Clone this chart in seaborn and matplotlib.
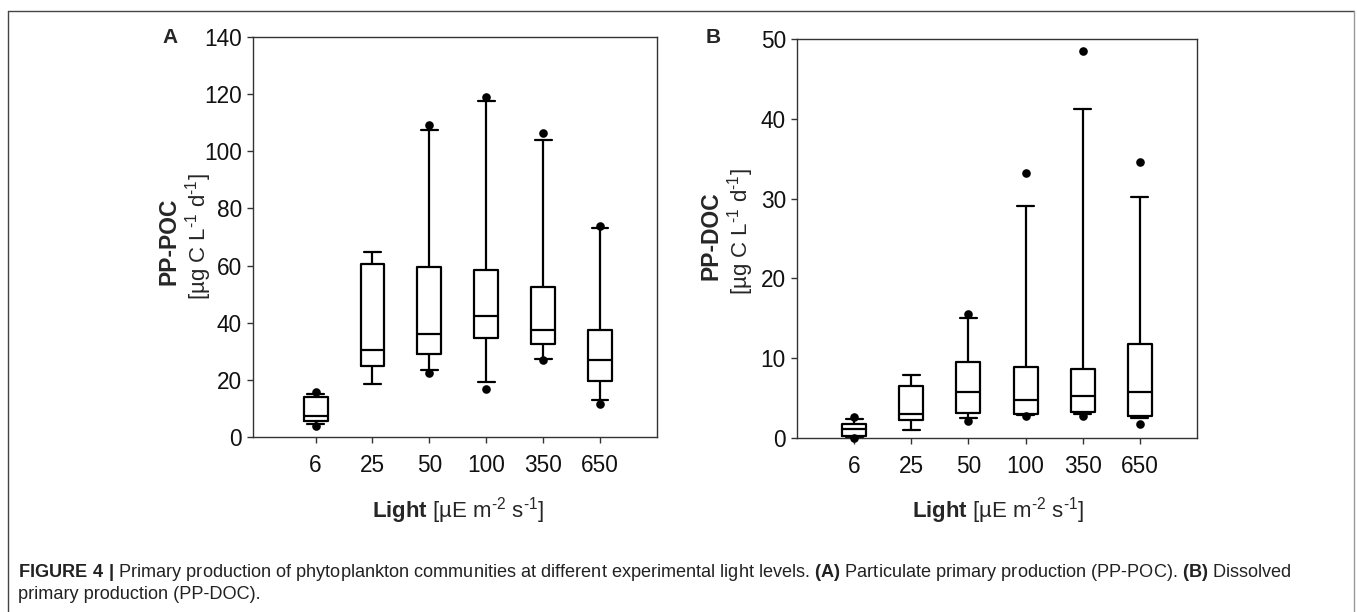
"""
Figure 4: primary production (PP-POC, PP-DOC) at different light levels.
"""

import matplotlib.pyplot as plt
import seaborn as sns
import pandas as pd
from matplotlib.lines import Line2D

# light levels (categories on x)
light_levels = ["6", "25", "50", "100", "350", "650"]

# PP-POC box statistics (whisker low, q1, median, q3, whisker high)
poc_whislo = [4.5, 18.6, 23.4, 19.2, 27.3, 13.0]
poc_q1 = [5.5, 24.7, 29.0, 34.7, 32.5, 19.7]
poc_median = [7.3, 30.3, 36.2, 42.5, 37.3, 26.9]
poc_q3 = [14.1, 60.4, 59.5, 58.6, 52.4, 37.4]
poc_whishi = [15.1, 64.8, 107.4, 117.7, 103.9, 73.0]
# PP-POC outlier points
poc_out_light = ["6", "6", "50", "50", "100", "100", "350", "350", "650", "650"]
poc_out_value = [15.6, 4.0, 109.1, 22.4, 118.9, 16.9, 106.5, 26.8, 74.0, 11.6]

# PP-DOC box statistics
doc_whislo = [0.1, 1.04, 2.5, 2.9, 3.0, 2.5]
doc_q1 = [0.25, 2.26, 3.09, 3.05, 3.2, 2.7]
doc_median = [1.13, 3.0, 5.72, 4.76, 5.22, 5.72]
doc_q3 = [1.75, 6.56, 9.52, 8.9, 8.69, 11.8]
doc_whishi = [2.4, 7.9, 15.1, 29.1, 41.2, 30.2]
# PP-DOC outlier points
doc_out_light = ["6", "6", "50", "50", "100", "100", "350", "350", "650", "650"]
doc_out_value = [2.6, 0.0, 15.6, 2.1, 33.2, 2.7, 48.5, 2.7, 34.6, 1.8]


def box_frame(whislo, q1, med, q3, whishi):
    """Five values per group -> with whis=(0, 100) they become the box stats."""
    rows = []
    for i, lvl in enumerate(light_levels):
        for v in (whislo[i], q1[i], med[i], q3[i], whishi[i]):
            rows.append({"light": lvl, "value": v})
    return pd.DataFrame(rows)


def setup_style():
    sns.set_style("ticks")
    plt.rcParams['font.family'] = ['Liberation Sans', 'DejaVu Sans']
    plt.rcParams['mathtext.fontset'] = 'custom'
    plt.rcParams['mathtext.rm'] = 'Liberation Sans'
    plt.rcParams['mathtext.bf'] = 'Liberation Sans:bold'
    plt.rcParams['mathtext.default'] = 'regular'
    plt.rcParams['axes.edgecolor'] = '#333333'
    plt.rcParams['xtick.color'] = '#333333'
    plt.rcParams['ytick.color'] = '#333333'
    plt.rcParams['xtick.labelcolor'] = '#111111'
    plt.rcParams['ytick.labelcolor'] = '#111111'


def draw_panel(ax, box_df, out_df, ymax, ystep):
    width = 0.42
    sns.boxplot(data=box_df, x="light", y="value", order=light_levels,
                whis=(0, 100), width=width, fill=False, color="black",
                linewidth=1.6, showfliers=False, capwidths=0.7 * width, ax=ax)
    sns.stripplot(data=out_df, x="light", y="value", order=light_levels,
                  jitter=False, color="black", size=6.2, ax=ax,
                  clip_on=False, zorder=5)
    ax.set_xlim(-1.1, 6.0)
    ax.set_ylim(0, ymax)
    ax.set_yticks(range(0, ymax + 1, ystep))
    ax.set_xlabel("")
    ax.set_ylabel("")
    for sp in ax.spines.values():
        sp.set_linewidth(1.0)
    ax.tick_params(axis='x', length=4.5, width=1.0, pad=7.5, labelsize=16.3)
    ax.tick_params(axis='y', length=4.0, width=1.0, pad=4, labelsize=16.3)


setup_style()
W, H = 1357, 612
fig = plt.figure(figsize=(W / 100, H / 100), dpi=100)


def px(x, y):
    return x / W, 1 - y / H


axA = fig.add_axes([253 / W, 1 - 437 / H, 404 / W, 400 / H])
axB = fig.add_axes([797 / W, 1 - 438 / H, 400 / W, 399 / H])

poc_box = box_frame(poc_whislo, poc_q1, poc_median, poc_q3, poc_whishi)
poc_out = pd.DataFrame({"light": poc_out_light, "value": poc_out_value})
doc_box = box_frame(doc_whislo, doc_q1, doc_median, doc_q3, doc_whishi)
doc_out = pd.DataFrame({"light": doc_out_light, "value": doc_out_value})

draw_panel(axA, poc_box, poc_out, 140, 20)
draw_panel(axB, doc_box, doc_out, 50, 10)
axB.set_xlim(-1.0, 6.0)

# panel letters
fig.text(*px(162, 43), "A", fontsize=15, fontweight='bold', va='baseline')
fig.text(*px(706, 43), "B", fontsize=15, fontweight='bold', va='baseline')

# y labels (two lines, bold name + units)
unit_lbl = r"[µg C L$^{\text{-}1}$ d$^{\text{-}1}$]"
fig.text(*px(169, 241), "PP-POC", fontsize=16.5, fontweight='bold',
         rotation=90, ha='center', va='center')
fig.text(*px(199, 237), unit_lbl, fontsize=16, rotation=90,
         ha='center', va='center')
fig.text(*px(711, 236), "PP-DOC", fontsize=16.5, fontweight='bold',
         rotation=90, ha='center', va='center')
fig.text(*px(741, 232), unit_lbl, fontsize=16, rotation=90,
         ha='center', va='center')

# x labels
light_lbl = r"$\bf{Light}$ [µE m$^{\text{-}2}$ s$^{\text{-}1}$]"
fig.text(*px(458, 518), light_lbl, fontsize=16, ha='center', va='baseline')
fig.text(*px(998, 518), light_lbl, fontsize=16, ha='center', va='baseline')

# caption
cap1 = (r"$\bf{FIGURE\ 4\ |}$ Primary production of phytoplankton communities "
        r"at different experimental light levels. $\bf{(A)}$ Particulate primary "
        r"production (PP-POC). $\bf{(B)}$ Dissolved")
cap2 = "primary production (PP-DOC)."
fig.text(*px(18, 577), cap1, fontsize=13.05, color='#222222', va='baseline')
fig.text(*px(18, 599), cap2, fontsize=13.05, color='#222222', va='baseline')

# frame around the figure (open at the bottom)
frame_kw = dict(color='#444444', linewidth=1.0, transform=fig.transFigure)
x0, y0 = px(8, 11)
x1, y1 = px(1354, 620)
fig.add_artist(Line2D([x0, x0], [y1, y0], **frame_kw))
fig.add_artist(Line2D([x0, x1], [y0, y0], **frame_kw))
fig.add_artist(Line2D([x1, x1], [y0, y1], color='#999999', linewidth=1.0,
                      transform=fig.transFigure))

fig.savefig("out.png", dpi=100)
